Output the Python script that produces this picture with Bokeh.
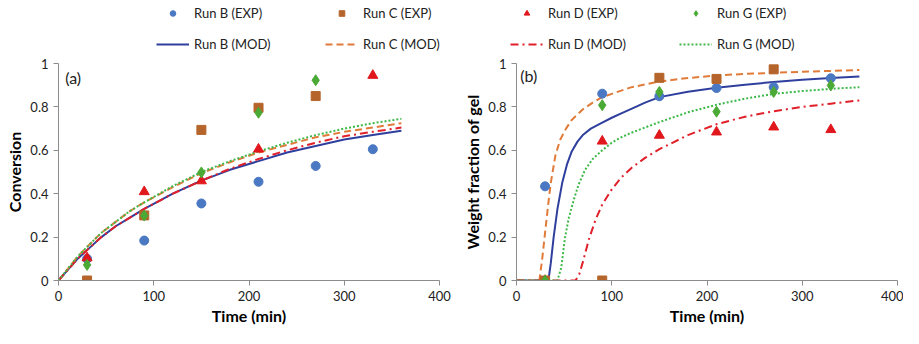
from bokeh.plotting import figure
from bokeh.layouts import row, column
from bokeh.models import Legend, LegendItem, Label, FixedTicker
from bokeh.embed import file_html
from bokeh.resources import INLINE

# ---------------- data ----------------
# Panel (a): conversion
a_B_t = [30, 90, 150, 210, 270, 330]
a_B = [0.10, 0.184, 0.355, 0.455, 0.528, 0.605]
a_C_t = [30, 90, 150, 210, 270]
a_C = [0.0, 0.30, 0.694, 0.796, 0.85]
a_D_t = [30, 90, 150, 210, 330]
a_D = [0.104, 0.409, 0.459, 0.605, 0.945]
a_G_t = [30, 90, 150, 210, 270]
a_G = [0.072, 0.299, 0.498, 0.773, 0.923]

a_mod_t = [0, 10, 20, 30, 45, 60, 75, 90, 120, 150, 180, 210, 240, 270, 300, 330, 360]
a_B_mod = [0, 0.05, 0.10, 0.14, 0.20, 0.25, 0.29, 0.33, 0.40, 0.46, 0.51, 0.55, 0.59, 0.62, 0.65, 0.67, 0.69]
a_C_mod = [0, 0.055, 0.11, 0.155, 0.22, 0.27, 0.32, 0.36, 0.43, 0.495, 0.545, 0.59, 0.625, 0.66, 0.685, 0.705, 0.725]
a_D_mod = [0, 0.05, 0.10, 0.14, 0.20, 0.25, 0.29, 0.33, 0.40, 0.46, 0.515, 0.56, 0.60, 0.635, 0.665, 0.685, 0.705]
a_G_mod = [0, 0.055, 0.11, 0.155, 0.22, 0.27, 0.32, 0.36, 0.435, 0.50, 0.55, 0.595, 0.635, 0.67, 0.70, 0.725, 0.745]

# Panel (b): weight fraction of gel
b_B_t = [30, 90, 150, 210, 270, 330]
b_B = [0.434, 0.861, 0.849, 0.887, 0.891, 0.932]
b_C_t = [30, 90, 150, 210, 270]
b_C = [0.0, 0.0, 0.934, 0.929, 0.973]
b_D_t = [30, 90, 150, 210, 270, 330]
b_D = [0.0, 0.642, 0.669, 0.684, 0.707, 0.695]
b_G_t = [30, 90, 150, 210, 270, 330]
b_G = [0.0, 0.808, 0.869, 0.778, 0.869, 0.899]

b_B_mod_t = [0, 33.5, 36, 39, 43, 48, 53, 58, 64, 70, 78, 90, 100, 110, 120, 135, 150, 180, 210, 240, 270, 300, 330, 360]
b_B_mod = [0, 0, 0.08, 0.2, 0.33, 0.45, 0.535, 0.595, 0.64, 0.672, 0.7, 0.728, 0.75, 0.77, 0.79, 0.82, 0.845, 0.87, 0.888, 0.902, 0.915, 0.925, 0.933, 0.94]
b_C_mod_t = [0, 24, 27, 30, 33, 36, 41, 46, 52, 58, 70, 80, 90, 100, 120, 150, 180, 210, 240, 270, 300, 330, 360]
b_C_mod = [0, 0, 0.1, 0.22, 0.34, 0.45, 0.58, 0.65, 0.70, 0.74, 0.79, 0.82, 0.845, 0.86, 0.89, 0.917, 0.933, 0.945, 0.952, 0.957, 0.962, 0.966, 0.97]
b_D_mod_t = [0, 62, 66, 70, 76, 83, 90, 100, 110, 121, 135, 150, 180, 210, 240, 270, 300, 330, 360]
b_D_mod = [0, 0, 0.03, 0.09, 0.19, 0.28, 0.35, 0.42, 0.475, 0.52, 0.565, 0.605, 0.67, 0.72, 0.755, 0.78, 0.80, 0.815, 0.83]
b_G_mod_t = [0, 43, 47, 51, 55, 60, 65, 72, 80, 90, 100, 110, 120, 135, 150, 180, 210, 240, 270, 300, 330, 360]
b_G_mod = [0, 0, 0.06, 0.2, 0.29, 0.37, 0.44, 0.51, 0.56, 0.60, 0.635, 0.66, 0.68, 0.705, 0.73, 0.775, 0.81, 0.838, 0.86, 0.873, 0.883, 0.891]

runs = ["Run B", "Run C", "Run D", "Run G"]
x_ticks = [0, 100, 200, 300, 400]
y_ticks = [0, 0.2, 0.4, 0.6, 0.8, 1]
y_tick_labels = ["0", "0.2", "0.4", "0.6", "0.8", "1"]
x_label = "Time (min)"
y_label_a = "Conversion"
y_label_b = "Weight fraction of gel"
panel_tags = ["(a)", "(b)"]

# ---------------- styles ----------------
FONT = "Lato"
marker_styles = {
    "Run B": dict(marker="circle", size=9, color="#4A78C2"),
    "Run C": dict(marker="square", size=9, color="#B5652B"),
    "Run D": dict(marker="triangle", size=10, color="#E0171C"),
    "Run G": dict(marker="diamond", size=11, color="#4BAA35"),
}
line_styles = {
    "Run B": dict(line_color="#2F3F9E", line_width=2, line_dash="solid"),
    "Run C": dict(line_color="#E07B39", line_width=2, line_dash="7 4"),
    "Run D": dict(line_color="#E0202A", line_width=2, line_dash="8 4 2 4"),
    "Run G": dict(line_color="#3DB849", line_width=2, line_dash="2 2"),
}


def make_fig(width, height, mbl, mbr, mbt, mbb, ylab):
    p = figure(width=width, height=height, x_range=(0, 400), y_range=(0, 1),
               output_backend="svg", toolbar_location=None,
               min_border_left=mbl, min_border_right=mbr,
               min_border_top=mbt, min_border_bottom=mbb)
    p.outline_line_color = None
    p.grid.visible = False
    p.xaxis.ticker = FixedTicker(ticks=x_ticks)
    p.yaxis.ticker = FixedTicker(ticks=y_ticks)
    p.yaxis.major_label_overrides = {t: l for t, l in zip(y_ticks, y_tick_labels)}
    for ax in (p.xaxis[0], p.yaxis[0]):
        ax.axis_line_color = "#8C8C8C"
        ax.major_tick_line_color = "#8C8C8C"
        ax.minor_tick_line_color = None
        ax.major_tick_in = 0
        ax.major_tick_out = 5
        ax.major_label_text_font = FONT
        ax.major_label_text_font_size = "13px"
        ax.major_label_text_color = "#222222"
        ax.axis_label_text_font = FONT
        ax.axis_label_text_font_size = "16px"
        ax.axis_label_text_font_style = "bold"
        ax.axis_label_text_color = "#000000"
    p.xaxis.axis_label = x_label
    p.xaxis.major_label_standoff = 5
    p.xaxis.axis_label_standoff = 2
    p.yaxis.axis_label = ylab
    p.yaxis.major_label_standoff = 5
    p.yaxis.axis_label_standoff = 3
    return p


def add_series(p, exp, mods):
    for name in runs:
        mt, mv = mods[name]
        p.line(mt, mv, **line_styles[name])
    for name in runs:
        et, ev = exp[name]
        st = marker_styles[name]
        p.scatter(et, ev, marker=st["marker"], size=st["size"],
                  fill_color=st["color"], line_color=st["color"])


exp_a = {"Run B": (a_B_t, a_B), "Run C": (a_C_t, a_C), "Run D": (a_D_t, a_D), "Run G": (a_G_t, a_G)}
mod_a = {"Run B": (a_mod_t, a_B_mod), "Run C": (a_mod_t, a_C_mod), "Run D": (a_mod_t, a_D_mod), "Run G": (a_mod_t, a_G_mod)}
exp_b = {"Run B": (b_B_t, b_B), "Run C": (b_C_t, b_C), "Run D": (b_D_t, b_D), "Run G": (b_G_t, b_G)}
mod_b = {"Run B": (b_B_mod_t, b_B_mod), "Run C": (b_C_mod_t, b_C_mod), "Run D": (b_D_mod_t, b_D_mod), "Run G": (b_G_mod_t, b_G_mod)}


# ---------------- legend strips (legend-only figures, data kept out of view) ----------------
LEG_H = 52


def legend_fig(width, left, names):
    f = figure(width=width, height=LEG_H, output_backend="svg", toolbar_location=None,
               x_axis_location=None, y_axis_location=None,
               x_range=(1000, 1001), y_range=(0, 1),
               min_border_left=left, min_border_right=0, min_border_top=5, min_border_bottom=0)
    f.outline_line_color = None
    f.grid.visible = False
    exp_items, mod_items = [], []
    for n in names:
        st = marker_styles[n]
        et, ev = exp_a[n]
        mt, mv = mod_a[n]
        r_m = f.line(mt, mv, **line_styles[n])
        r_e = f.scatter(et, ev, marker=st["marker"], size=st["size"],
                        fill_color=st["color"], line_color=st["color"])
        exp_items.append(LegendItem(label=f"{n} (EXP)", renderers=[r_e]))
        mod_items.append(LegendItem(label=f"{n} (MOD)", renderers=[r_m]))
    lg = Legend(items=exp_items + mod_items, location="top_left",
                orientation="horizontal", ncols=2)
    lg.glyph_width = 33
    lg.glyph_height = 14
    lg.label_height = 14
    lg.label_width = 116
    lg.label_standoff = 5
    lg.spacing = 15
    lg.padding = 0
    lg.margin = 0
    lg.border_line_color = None
    lg.background_fill_alpha = 0
    lg.label_text_font = FONT
    lg.label_text_font_size = "13px"
    lg.label_text_color = "#222222"
    f.add_layout(lg, "center")
    return f


leg_a = legend_fig(454, 156, ["Run B", "Run C"])
leg_b = legend_fig(449, 56, ["Run D", "Run G"])

H = 328 - LEG_H
# Panel (a)
pa = make_fig(454, H, 58, 15, 63 - LEG_H, 48, y_label_a)
add_series(pa, exp_a, mod_a)
pa.add_layout(Label(x=7, y=0.934, text=panel_tags[0], text_font=FONT, text_font_size="16px",
                    text_baseline="middle", text_color="#222222"))

# Panel (b)
pb = make_fig(449, H, 62, 6, 61 - LEG_H, 46, y_label_b)
add_series(pb, exp_b, mod_b)
pb.add_layout(Label(x=4, y=0.944, text=panel_tags[1], text_font=FONT, text_font_size="16px",
                    text_baseline="middle", text_color="#222222"))

layout = column(row(leg_a, leg_b, spacing=0), row(pa, pb, spacing=0), spacing=0)
open("out.html", "w").write(file_html(layout, INLINE))
